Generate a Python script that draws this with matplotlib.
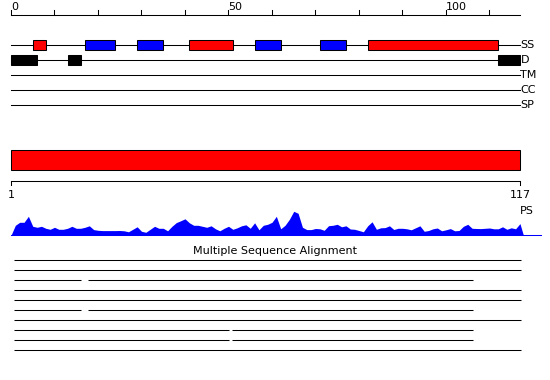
import matplotlib
matplotlib.use('Agg')
import matplotlib.pyplot as plt
from matplotlib.patches import Rectangle

# ---------------- data ----------------
seq_len = 117
ruler_ticks = list(range(0, 111, 10))
ruler_labels = {0: '0', 50: '50', 100: '100'}

track_names = ['SS', 'D', 'TM', 'CC', 'SP']
helix_segments = [(5, 8), (41, 51), (82, 112)]          # red
strand_segments = [(17, 24), (29, 35), (56, 62), (71, 77)]  # blue
disorder_segments = [(0, 6), (13, 16), (112, 117)]      # black
domain_segments = [(0, 117)]
domain_labels = ['1', '117']

ps_values = [10, 13, 13, 19, 9, 8, 9, 7, 6, 8,
             6, 6, 7, 9, 7, 7, 8, 9.5, 5.7, 5,
             4.7, 4.7, 4.7, 4.7, 4.8, 4.5, 3.5, 6, 8.5, 4,
             3, 6, 9, 7, 7, 4.5, 9, 12.7, 14.5, 16.5,
             12.5, 10, 10, 9, 8, 9.5, 6.5, 4.5, 7, 9,
             6, 7.5, 9.5, 10.5, 7, 12.5, 5.5, 10, 11, 13,
             19, 6.5, 10, 16, 24, 22, 8, 5.7, 5.7, 6.8,
             6.5, 5, 9.6, 10, 11, 8.5, 9.5, 6.3, 6, 4.8,
             3.5, 9.5, 13.5, 6, 7.5, 7.7, 9.5, 5.8, 7, 7,
             6.5, 5.5, 7.5, 9.5, 4, 4.8, 6.5, 7.3, 4.5, 5.5,
             6.7, 4.5, 4.8, 9, 11, 7, 6.8, 6.7, 7, 7.3,
             6.5, 6.5, 8.5, 6, 7.5, 6.5, 11.7]

msa_title = 'Multiple Sequence Alignment'
msa_rows = [
    [(1, 117)],
    [(1, 117)],
    [(1, 16), (18, 106)],
    [(1, 117)],
    [(1, 117)],
    [(1, 16), (18, 106)],
    [(1, 117)],
    [(1, 50), (51, 106)],
    [(1, 50), (51, 106)],
    [(1, 117)],
]

# ---------------- layout (pixel space for y) ----------------
W, H = 550, 380
PX_PER_RES = 4.35
X0 = 11
LW = 0.75
FS = 8

fig = plt.figure(figsize=(W / 100, H / 100), dpi=100)
ax = fig.add_axes([0, 0, 1, 1])
ax.set_xlim(-X0 / PX_PER_RES, (W - X0) / PX_PER_RES)
ax.set_ylim(H, 0)
ax.axis('off')

# ruler
ruler_y = 15
ax.plot([0, seq_len], [ruler_y, ruler_y], color='black', lw=LW)
for t in ruler_ticks:
    ax.plot([t, t], [ruler_y, ruler_y - 5], color='black', lw=LW)
    if t in ruler_labels:
        ax.text(t, ruler_y - 5.5, ruler_labels[t], ha='left', va='baseline',
                fontsize=FS, color='black')

# tracks
track_y0 = 45
track_dy = 15
box_h = 10
track_y = {name: track_y0 + i * track_dy for i, name in enumerate(track_names)}
for name in track_names:
    y = track_y[name]
    ax.plot([0, seq_len], [y, y], color='black', lw=LW, zorder=1)
    ax.text(seq_len + 0.1, y, name, ha='left', va='center', fontsize=FS)


def boxes(segs, y, color):
    for s, e in segs:
        ax.add_patch(Rectangle((s, y - box_h / 2), e - s, box_h, facecolor=color,
                               edgecolor='black', lw=LW, zorder=2))


boxes(helix_segments, track_y['SS'], '#ff0000')
boxes(strand_segments, track_y['SS'], '#0000ff')
boxes(disorder_segments, track_y['D'], 'black')

# domain bar
for s, e in domain_segments:
    ax.add_patch(Rectangle((s, 150.3), e - s, 20, facecolor='#ff0000',
                           edgecolor='black', lw=LW))

# scale line under the bar
sy = 180.7
ax.plot([0, seq_len], [sy, sy], color='black', lw=LW)
ax.plot([0, 0], [sy, sy + 4.5], color='black', lw=LW)
ax.plot([seq_len, seq_len], [sy, sy + 4.5], color='black', lw=LW)
ax.text(0, 190, domain_labels[0], ha='center', va='top', fontsize=FS)
ax.text(seq_len, 190, domain_labels[1], ha='center', va='top', fontsize=FS)
ax.text(seq_len + 1.5, 211, 'PS', ha='center', va='center', fontsize=FS)

# PS profile
base = 235.3
xs = [0] + list(range(1, len(ps_values) + 1)) + [len(ps_values) + 0.8]
ys = [base] + [base - v for v in ps_values] + [base]
ax.fill_between(xs, ys, base, color='#0000ff', lw=0)
ax.plot([0, (540.7 - X0) / PX_PER_RES], [base - 0.4, base - 0.4], color='#0000ff', lw=LW)

# MSA
ax.text((W / 2 - X0) / PX_PER_RES, 250.5, msa_title, ha='center', va='center', fontsize=FS)
for i, row in enumerate(msa_rows):
    y = 260 + 10 * i
    for s, e in row:
        ax.plot([s - 0.3, e + 0.2], [y, y], color='black', lw=LW, solid_capstyle='butt')

fig.savefig('out.png', dpi=100)
